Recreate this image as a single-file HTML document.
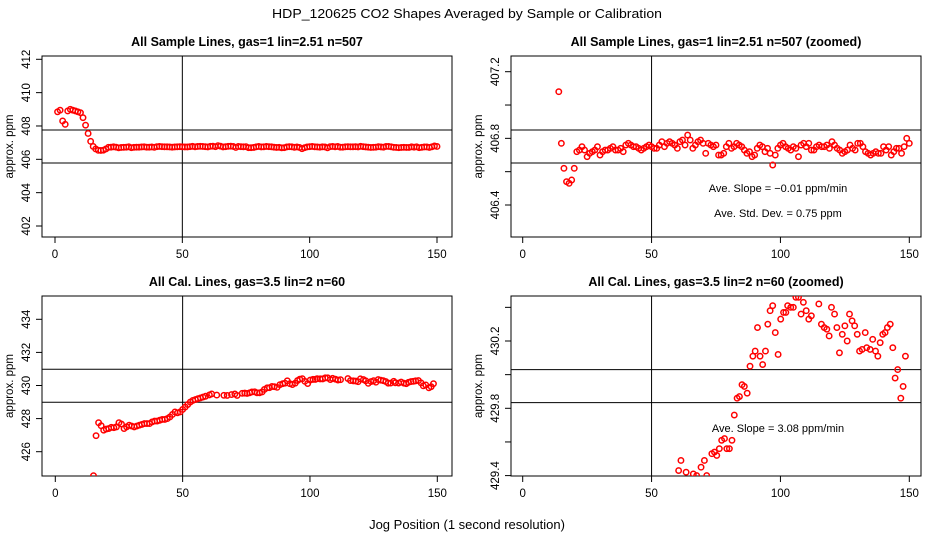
<!DOCTYPE html>
<html><head><meta charset="utf-8"><style>
html,body{margin:0;padding:0;background:#fff;overflow:hidden;width:936px;height:540px;}
svg{display:block;font-family:"Liberation Sans",sans-serif;}
</style></head><body>
<svg id="chart" width="936" height="540" viewBox="0 0 936 540" xmlns="http://www.w3.org/2000/svg">
<text x="467" y="18" font-size="13" text-anchor="middle" textLength="390" lengthAdjust="spacingAndGlyphs">HDP_120625  CO2 Shapes Averaged by Sample or Calibration</text>
<text x="467" y="529" font-size="13" text-anchor="middle">Jog Position (1 second resolution)</text>
</svg>
<script>
// ---- data ----
const sampleX = [];
for (let i = 1; i <= 150; i++) sampleX.push(i);
const sampleY = [408.85,408.95,408.3,408.1,408.9,409.0,408.95,408.9,408.85,408.8,408.5,408.05,407.55,407.08,406.77,406.62,406.54,406.53,406.55,406.62,406.72,406.73,406.75,406.73,406.69,
406.71,406.72,406.73,406.75,406.70,406.72,406.73,406.73,406.74,406.75,406.73,406.73,406.74,406.72,406.76,406.77,406.76,406.75,406.75,406.74,406.73,406.74,406.75,406.76,406.75,
406.74,406.74,406.76,406.78,406.75,406.77,406.78,406.77,406.76,406.74,406.78,406.79,406.76,406.82,406.79,406.74,406.76,406.78,406.79,406.77,406.71,406.77,406.76,406.75,406.76,
406.70,406.70,406.71,406.75,406.77,406.74,406.75,406.77,406.76,406.75,406.73,406.71,406.72,406.69,406.70,406.74,406.76,406.75,406.72,406.74,406.71,406.64,406.70,406.74,406.76,
406.77,406.75,406.74,406.73,406.75,406.74,406.69,406.76,406.77,406.75,406.77,406.73,406.73,406.75,406.76,406.75,406.75,406.76,406.74,406.78,406.76,406.74,406.73,406.71,406.72,
406.73,406.76,406.74,406.73,406.77,406.77,406.75,406.72,406.71,406.70,406.71,406.72,406.71,406.71,406.75,406.73,406.75,406.70,406.72,406.74,406.74,406.71,406.75,406.80,406.77];
const calX = [15,16,17,18,19,20,21,22,23,24,25,26,27,28,29,30,31,32,33,34,35,36,37,38,39,40,41,42,43,44,45,46,47,48,49,50,51,52,53,54,55,56,57,58,59,
60.5,61.4,63.4,66.2,67.5,69.2,70.5,71.4,73.4,74.4,75.3,76.3,77.2,78.3,79.2,80.2,81.2,82.1,83.2,84.1,85.1,86,87.1,88.2,89.3,90.2,91.1,92.1,93.1,94.2,95.1,96,97,98,99.1,100.1,101.2,102.1,102.8,104,105,106,107,108,108.9,110,111,112,114.9,115.9,117,118,118.9,119.8,121,121.9,122.9,124,125,125.9,126.8,127.8,128.8,129.8,130.7,131.7,132.9,133.5,134.8,135.8,136.9,137.8,138.7,139.7,140.6,141.5,142.6,143.6,144.5,145.5,146.7,147.6,148.5];
const calY = [424.55,426.97,427.75,427.57,427.3,427.37,427.4,427.47,427.45,427.5,427.75,427.67,427.4,427.5,427.6,427.55,427.5,427.55,427.6,427.65,427.7,427.7,427.7,427.8,427.85,427.85,427.9,427.95,427.95,428.0,428.1,428.25,428.4,428.35,428.4,428.55,428.7,428.85,429.0,429.1,429.15,429.2,429.25,429.3,429.35,
429.43,429.49,429.42,429.41,429.40,429.45,429.49,429.40,429.53,429.54,429.52,429.56,429.61,429.62,429.56,429.56,429.61,429.76,429.86,429.87,429.94,429.93,429.89,430.05,430.11,430.14,430.28,430.11,430.06,430.14,430.30,430.38,430.41,430.25,430.12,430.33,430.37,430.37,430.41,430.40,430.40,430.46,430.46,430.36,430.43,430.38,430.33,430.35,430.42,430.30,430.28,430.27,430.23,430.40,430.36,430.28,430.13,430.24,430.29,430.20,430.36,430.32,430.29,430.24,430.14,430.15,430.25,430.16,430.15,430.21,430.14,430.11,430.19,430.24,430.25,430.28,430.30,430.16,429.98,430.03,429.86,429.93,430.11];
const xTicks = [0,50,100,150];
const p1Ticks = [402,404,406,408,410,412];
const p1Labels = ["402","404","406","408","410","412"];
const p2Ticks = [406.4,406.6,406.8,407.0,407.2];
const p2Labels = ["406.4","","406.8","","407.2"];
const p3Ticks = [426,428,430,432,434];
const p3Labels = ["426","428","430","432","434"];
const p4Ticks = [429.4,429.6,429.8,430.0,430.2,430.4];
const p4Labels = ["429.4","","429.8","","430.2",""];
const p1Lines = [407.76,405.78];
const p2Lines = [406.85,406.652];
const p3Lines = [430.98,428.99];
const p4Lines = [430.03,429.834];

const NS = "http://www.w3.org/2000/svg";
const svg = document.getElementById('chart');
function mk(tag, attrs, parent){const e=document.createElementNS(NS,tag);for(const k in attrs)e.setAttribute(k,attrs[k]);(parent||svg).appendChild(e);return e;}

function panel(id, cfg){
  const g = mk('g',{});
  
  
  const {L,R,T,B,x0px,x150px,yA,yApx,yB,yBpx} = cfg;
  const sx = v => x0px + (x150px-x0px)*v/150;
  const sy = v => yApx + (yBpx-yApx)*(v-yA)/(yB-yA);
  const cp = mk('clipPath',{id:'clip-'+id},g);
  mk('rect',{x:L,y:T,width:R-L,height:B-T},cp);
  const box = mk('rect',{x:L,y:T,width:R-L,height:B-T,fill:'none',stroke:'#000','stroke-width':1},g);
  
  
  const t = mk('text',{x:(L+R)/2,y:T-10,'font-size':12.5,'font-weight':'bold','text-anchor':'middle'},g);
  t.textContent = cfg.title;
  
  
  xTicks.forEach(v=>{
    const x=sx(v);
    mk('line',{x1:x,x2:x,y1:B,y2:B+6,stroke:'#000'},g);
    const tx=mk('text',{x:x,y:B+21,'font-size':11.5,'text-anchor':'middle'},g);
    tx.textContent=v;
    
    
  });
  mk('line',{x1:sx(0),x2:sx(150),y1:B,y2:B,stroke:'#000'},g);
  cfg.ticks.forEach((v,i)=>{
    const y=sy(v);
    mk('line',{x1:L-6,x2:L,y1:y,y2:y,stroke:'#000'},g);
    if(cfg.labels[i]){
      const ty=mk('text',{x:0,y:0,'font-size':11.5,'text-anchor':'middle',transform:`translate(${L-12},${y}) rotate(-90)`},g);
      ty.textContent=cfg.labels[i];
      
      
    }
  });
  mk('line',{x1:L,x2:L,y1:sy(cfg.ticks[0]),y2:sy(cfg.ticks[cfg.ticks.length-1]),stroke:'#000'},g);
  const yl=mk('text',{x:0,y:0,'font-size':11.5,'text-anchor':'middle',transform:`translate(${L-29},${(T+B)/2}) rotate(-90)`},g);
  yl.textContent='approx. ppm';
  
  
  cfg.hlines.forEach(v=>{
    const l=mk('line',{x1:L,x2:R,y1:sy(v),y2:sy(v),stroke:'#000'},g);
    
    
  });
  const vl=mk('line',{x1:sx(50),x2:sx(50),y1:T,y2:B,stroke:'#000'},g);
  
  
  const pg = mk('g',{'clip-path':`url(#clip-${id})`},g);
  cfg.xs.forEach((xv,i)=>{
    const cx=sx(xv), cy=sy(cfg.ys[i]);
    if (cy < T-5 || cy > B+5 || cx < L-5 || cx > R+5) return;
    const c=mk('circle',{cx:cx,cy:cy,r:2.7,fill:'none',stroke:'#f00','stroke-width':1.5},pg);
    
    
  });
  (cfg.notes||[]).forEach(n=>{
    const tn=mk('text',{x:n[0],y:n[1],'font-size':11,'text-anchor':'middle'},g);
    tn.textContent=n[2];
    
    
  });
}
panel('sample',{L:42,R:452,T:56,B:237,x0px:55,x150px:437,yA:412,yApx:59.3,yB:402,yBpx:226,ticks:p1Ticks,labels:p1Labels,hlines:p1Lines,xs:sampleX,ys:sampleY,title:'All Sample Lines, gas=1 lin=2.51 n=507'});
panel('sample-zoomed',{L:511,R:921,T:56,B:237,x0px:522.7,x150px:909.3,yA:407.2,yApx:71.7,yB:406.4,yBpx:205,ticks:p2Ticks,labels:p2Labels,hlines:p2Lines,xs:sampleX,ys:sampleY,title:'All Sample Lines, gas=1 lin=2.51 n=507 (zoomed)',
  notes:[[778,192,'Ave. Slope =  \u22120.01  ppm/min'],[778,217,'Ave. Std. Dev. =  0.75  ppm']]});
panel('cal',{L:42,R:452,T:296,B:476,x0px:55.3,x150px:437.3,yA:434,yApx:319.3,yB:426,yBpx:451.7,ticks:p3Ticks,labels:p3Labels,hlines:p3Lines,xs:calX,ys:calY,title:'All Cal. Lines, gas=3.5 lin=2 n=60'});
panel('cal-zoomed',{L:511,R:921,T:296,B:476,x0px:522.7,x150px:909.3,yA:430.2,yApx:341,yB:429.8,yBpx:408.3,ticks:p4Ticks,labels:p4Labels,hlines:p4Lines,xs:calX,ys:calY,title:'All Cal. Lines, gas=3.5 lin=2 n=60 (zoomed)',
  notes:[[778,432,'Ave. Slope =  3.08  ppm/min']]});
</script>
</body></html>
